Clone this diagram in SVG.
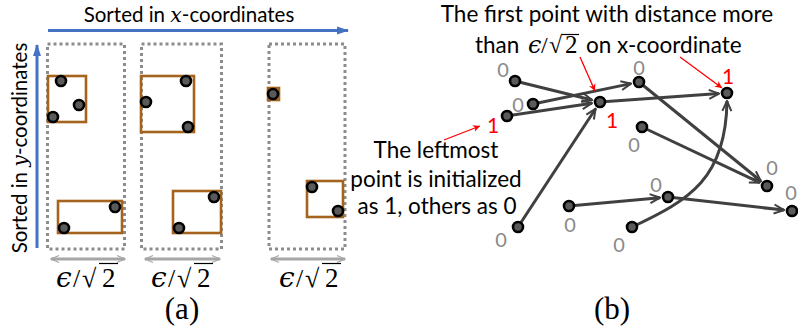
<svg xmlns="http://www.w3.org/2000/svg" width="798" height="332" viewBox="0 0 798 332">
<style>
.lbl{font-family:Lato,"Open Sans","Liberation Sans",sans-serif;fill:#000}
.math{font-family:"DejaVu Serif","Liberation Serif",serif;font-style:italic}
.serif{font-family:"Liberation Serif","DejaVu Serif",serif}
.box{fill:none;stroke:#8c8c8c;stroke-width:3;stroke-dasharray:3 3}
.grp{fill:none;stroke:#A5641E;stroke-width:2.6}
.pt{fill:#5a5a5a;stroke:#000;stroke-width:2.6}
.edge{fill:none;stroke:#404040;stroke-width:3;marker-end:url(#open)}
.red{fill:none;stroke:#ff0000;stroke-width:1.3;marker-end:url(#redh)}
.zero{font-family:Lato,"Open Sans",sans-serif;font-size:20px;fill:#8a8a8a;text-anchor:middle}
.one{font-family:Lato,"Open Sans",sans-serif;font-size:21px;fill:#ff0000;text-anchor:middle}
.dim{fill:none;stroke:#a6a6a6;stroke-width:3;marker-start:url(#gh);marker-end:url(#gh)}
.vin{stroke:#000;stroke-width:1.2}
</style>
<defs>
<marker id="open" viewBox="0 0 12 12" refX="11" refY="6" markerWidth="12" markerHeight="12" markerUnits="userSpaceOnUse" orient="auto">
<path d="M1,1.5 L11,6 L1,10.5 M4,6 L11,6" fill="none" stroke="#404040" stroke-width="2"/>
</marker>
<marker id="redh" viewBox="0 0 8 8" refX="7" refY="4" markerWidth="8" markerHeight="8" markerUnits="userSpaceOnUse" orient="auto">
<path d="M0,0.5 L7,4 L0,7.5 L2,4 Z" fill="#ff0000"/>
</marker>
<marker id="blueh" viewBox="0 0 12 10" refX="11" refY="5" markerWidth="12" markerHeight="10" markerUnits="userSpaceOnUse" orient="auto">
<path d="M0,1 L12,5 L0,9 Z" fill="#4472C4"/>
</marker>
<marker id="gh" viewBox="0 0 10 10" refX="9" refY="5" markerWidth="10" markerHeight="10" markerUnits="userSpaceOnUse" orient="auto-start-reverse">
<path d="M1,1.5 L9,5 L1,8.5" fill="none" stroke="#a6a6a6" stroke-width="1.2"/>
</marker>
</defs>

<!-- Panel (a) -->
<g id="axis-x">
<line x1="48" y1="30.5" x2="348" y2="30.5" stroke="#4472C4" stroke-width="3" marker-end="url(#blueh)"/>
<text class="lbl" x="189" y="22" font-size="20.5" text-anchor="middle">Sorted in <tspan class="math">x</tspan>-coordinates</text>
</g>
<g id="axis-y">
<line x1="37" y1="248" x2="37" y2="45" stroke="#4472C4" stroke-width="3" marker-end="url(#blueh)"/>
<text class="lbl" transform="translate(27,148) rotate(-90)" font-size="20.5" text-anchor="middle">Sorted in <tspan class="math">y</tspan>-coordinates</text>
</g>

<g id="col1">
<rect class="box" x="47.5" y="44" width="77" height="205"/>
<rect class="grp" x="48" y="76" width="38" height="46"/>
<rect class="grp" x="58" y="201" width="64" height="32"/>
<circle class="pt" cx="61" cy="81" r="5"/>
<circle class="pt" cx="79" cy="105" r="5"/>
<circle class="pt" cx="53" cy="117" r="5"/>
<circle class="pt" cx="115" cy="207" r="5"/>
<circle class="pt" cx="64" cy="228" r="5"/>
<line class="dim" x1="51" y1="259" x2="125" y2="259"/>
<text class="math" x="56" y="287" font-size="28">ϵ</text>
<text class="serif" x="73" y="287" font-size="26">/</text>
<text class="serif" x="82" y="287" font-size="26">√</text>
<text class="serif" x="102" y="287" font-size="27">2</text>
<line class="vin" x1="99" y1="263.5" x2="118" y2="263.5"/>
</g>

<g id="col2">
<rect class="box" x="141.5" y="44" width="80" height="205"/>
<rect class="grp" x="141" y="76" width="53" height="56"/>
<rect class="grp" x="173" y="191" width="48" height="42"/>
<circle class="pt" cx="186" cy="81" r="5"/>
<circle class="pt" cx="146" cy="102" r="5"/>
<circle class="pt" cx="188" cy="127" r="5"/>
<circle class="pt" cx="214" cy="197" r="5"/>
<circle class="pt" cx="179" cy="228" r="5"/>
<line class="dim" x1="145" y1="259" x2="220" y2="259"/>
<text class="math" x="151" y="287" font-size="28">ϵ</text>
<text class="serif" x="168" y="287" font-size="26">/</text>
<text class="serif" x="177" y="287" font-size="26">√</text>
<text class="serif" x="197" y="287" font-size="27">2</text>
<line class="vin" x1="194" y1="263.5" x2="213" y2="263.5"/>
</g>

<g id="col3">
<rect class="box" x="269" y="44" width="76" height="205"/>
<rect class="grp" x="268" y="88" width="11" height="12"/>
<rect class="grp" x="307" y="181" width="36" height="36"/>
<circle class="pt" cx="273" cy="94" r="5"/>
<circle class="pt" cx="312" cy="187" r="5"/>
<circle class="pt" cx="338" cy="211" r="5"/>
<line class="dim" x1="271" y1="259" x2="345" y2="259"/>
<text class="math" x="279" y="287" font-size="28">ϵ</text>
<text class="serif" x="296" y="287" font-size="26">/</text>
<text class="serif" x="305" y="287" font-size="26">√</text>
<text class="serif" x="325" y="287" font-size="27">2</text>
<line class="vin" x1="322" y1="263.5" x2="341" y2="263.5"/>
</g>

<text class="serif" x="182" y="319" font-size="31" text-anchor="middle">(a)</text>

<!-- Panel (b) -->
<g id="title-b">
<text class="lbl" x="607" y="22" font-size="22.5" text-anchor="middle">The first point with distance more</text>
<text class="lbl" x="475" y="53" font-size="22.5">than</text>
<text class="math" x="528" y="53" font-size="24">ϵ</text>
<text class="serif" x="541" y="53" font-size="24">/</text>
<text class="serif" x="549" y="53" font-size="24">√</text>
<text class="serif" x="565" y="53" font-size="25">2</text>
<line class="vin" x1="562" y1="34.5" x2="579" y2="34.5"/>
<text class="lbl" x="586" y="53" font-size="22.5">on x-coordinate</text>
</g>
<g id="note-left">
<text class="lbl" x="436" y="158" font-size="22.5" text-anchor="middle">The leftmost</text>
<text class="lbl" x="436" y="187" font-size="22.5" text-anchor="middle">point is initialized</text>
<text class="lbl" x="437" y="214" font-size="22.5" text-anchor="middle">as 1, others as 0</text>
</g>

<g id="connectors">
<line class="edge" x1="515" y1="81" x2="592" y2="100"/>
<line class="edge" x1="533" y1="104" x2="631" y2="83.6"/>
<line class="edge" x1="507" y1="116" x2="592" y2="103.2"/>
<line class="edge" x1="600" y1="102" x2="719" y2="93.6"/>
<line class="edge" x1="518" y1="227" x2="595.6" y2="108.7"/>
<line class="edge" x1="639" y1="82" x2="760.8" y2="181"/>
<line class="edge" x1="642" y1="127" x2="759.8" y2="182.6"/>
<line class="edge" x1="569" y1="206" x2="660" y2="197.7"/>
<line class="edge" x1="668" y1="197" x2="784" y2="210.1"/>
<path class="edge" d="M632,227 C690,200 726,178 727,101"/>
<line class="red" x1="444" y1="140" x2="480" y2="126"/>
<line class="red" x1="580" y1="57" x2="595" y2="91"/>
<line class="red" x1="680" y1="57" x2="722" y2="88"/>
</g>

<g id="P1"><circle class="pt" cx="515" cy="81" r="5"/><text class="zero" x="503" y="77">0</text></g>
<g id="P2"><circle class="pt" cx="533" cy="104" r="5"/><text class="zero" x="518" y="112">0</text></g>
<g id="P3"><circle class="pt" cx="507" cy="116" r="5"/><text class="one" x="493" y="133">1</text></g>
<g id="P4"><circle class="pt" cx="600" cy="102" r="5"/><text class="one" x="612" y="128">1</text></g>
<g id="P5"><circle class="pt" cx="639" cy="82" r="5"/><text class="zero" x="639" y="75">0</text></g>
<g id="P6"><circle class="pt" cx="727" cy="93" r="5"/><text class="one" x="728" y="84">1</text></g>
<g id="P7"><circle class="pt" cx="642" cy="127" r="5"/><text class="zero" x="634" y="152">0</text></g>
<g id="P8"><circle class="pt" cx="767" cy="186" r="5"/><text class="zero" x="772" y="175">0</text></g>
<g id="P9"><circle class="pt" cx="792" cy="211" r="5"/><text class="zero" x="791" y="200">0</text></g>
<g id="P10"><circle class="pt" cx="668" cy="197" r="5"/><text class="zero" x="656" y="192">0</text></g>
<g id="P11"><circle class="pt" cx="569" cy="206" r="5"/><text class="zero" x="570" y="232">0</text></g>
<g id="P12"><circle class="pt" cx="518" cy="227" r="5"/><text class="zero" x="501" y="247">0</text></g>
<g id="P13"><circle class="pt" cx="632" cy="227" r="5"/><text class="zero" x="619" y="252">0</text></g>

<text class="serif" x="612" y="319" font-size="31" text-anchor="middle">(b)</text>
</svg>
